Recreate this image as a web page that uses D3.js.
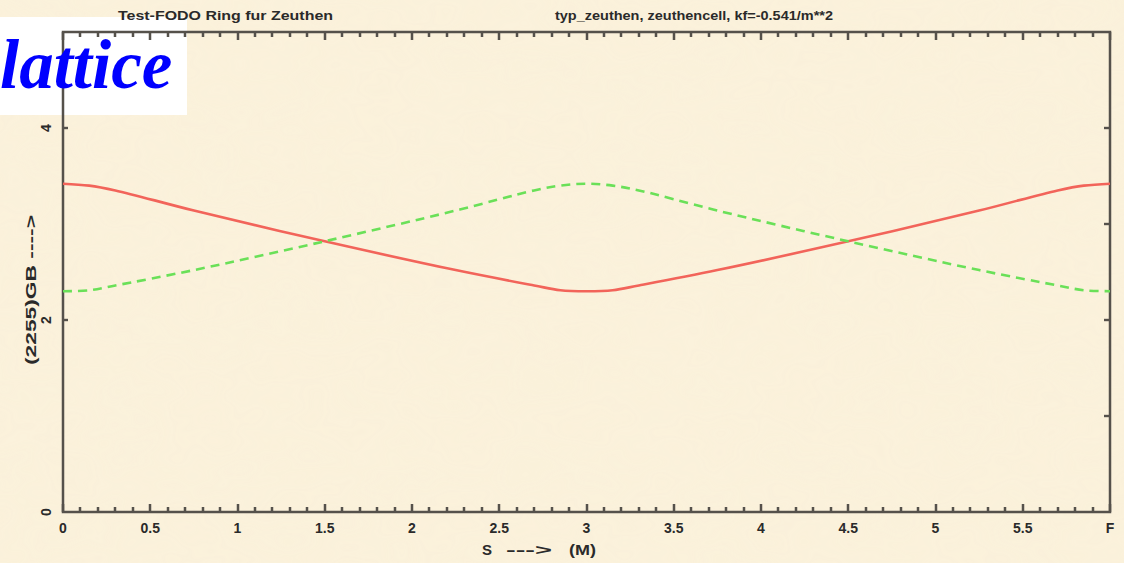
<!DOCTYPE html>
<html>
<head>
<meta charset="utf-8">
<script src="https://cdn.jsdelivr.net/npm/d3@7"></script>
<style>
  html, body { margin: 0; padding: 0; background: #faf0da; }
  svg { display: block; }
</style>
</head>
<body>
<svg id="chart" width="1124" height="563"></svg>
<script>
// Beta functions along one FODO cell (s in metres)
const sPos   = [0, 0.15, 0.3, 0.75, 1.5, 2.25, 2.7, 2.85, 3.0, 3.15, 3.3, 3.75, 4.5, 5.25, 5.7, 5.85, 6.0];
const betaX  = [3.42, 3.40, 3.35, 3.14, 2.82, 2.52, 2.36, 2.31, 2.30, 2.31, 2.36, 2.52, 2.82, 3.14, 3.35, 3.40, 3.42];
const betaY  = [2.30, 2.31, 2.36, 2.52, 2.82, 3.14, 3.35, 3.40, 3.42, 3.40, 3.35, 3.14, 2.82, 2.52, 2.36, 2.31, 2.30];

const xMajorTicks = [0, 0.5, 1, 1.5, 2, 2.5, 3, 3.5, 4, 4.5, 5, 5.5, 6];
const xTickLabels = ["0", "0.5", "1", "1.5", "2", "2.5", "3", "3.5", "4", "4.5", "5", "5.5", "F"];
const yLabelTicks = [0, 2, 4];
const yTickLabels = ["0", "2", "4"];
const yRightTicks = [1, 2, 3, 4];

const titleLeft  = "Test-FODO Ring fur Zeuthen";
const titleRight = "typ_zeuthen, zeuthencell, kf=-0.541/m**2";
const xTitleS = "S";
const xTitleArrow = "--->";
const xUnit = "(M)";
const yTitle = "(2255)GB ---->";
const badge = "lattice";

const svg = d3.select("#chart");
const W = 1124, H = 563;
const plotL = 63, plotR = 1110, plotT = 32, plotB = 512;

const x = d3.scaleLinear().domain([0, 6]).range([plotL, plotR]);
const y = d3.scaleLinear().domain([0, 5]).range([plotB, plotT]);

// parchment background
const defs = svg.append("defs");
const f = defs.append("filter").attr("id", "paper").attr("x", 0).attr("y", 0).attr("width", "100%").attr("height", "100%");
f.append("feTurbulence").attr("type", "fractalNoise").attr("baseFrequency", "0.012 0.02").attr("numOctaves", 3).attr("seed", 7).attr("result", "n");
f.append("feColorMatrix").attr("in", "n").attr("type", "matrix")
  .attr("values", "0 0 0 0 0.93  0 0 0 0 0.89  0 0 0 0 0.70  0 0 0 0.28 0");
svg.append("rect").attr("width", W).attr("height", H).attr("fill", "#fbf1db");
svg.append("rect").attr("width", W).attr("height", H).attr("filter", "url(#paper)").attr("opacity", 0.8);

// white badge panel
svg.append("rect").attr("x", 0).attr("y", 17).attr("width", 187).attr("height", 98).attr("fill", "#ffffff");

const axisColor = "#55514b";
const textColor = "#2a2a2a";
const g = svg.append("g");

// frame
g.append("rect").attr("x", plotL).attr("y", plotT).attr("width", plotR - plotL).attr("height", plotB - plotT)
  .attr("fill", "none").attr("stroke", axisColor).attr("stroke-width", 2.5);

// tick marks: minor every 0.1 m, major every 0.5 m, on bottom and top edges
const minorTicks = d3.range(1, 60).map(i => i / 10).filter(v => Math.abs(v * 2 - Math.round(v * 2)) > 1e-6);

function hTicks(values, yEdge, len, w) {
  g.append("g").selectAll("rect").data(values).join("rect")
    .attr("x", d => Math.round(x(d)) - w / 2)
    .attr("y", len < 0 ? yEdge + len : yEdge)
    .attr("width", w).attr("height", Math.abs(len))
    .attr("fill", axisColor);
}
hTicks(xMajorTicks, plotB, -8, 2.5);
hTicks(minorTicks, plotB, -5, 2.5);
hTicks(xMajorTicks, plotT, 8, 2.5);
hTicks(minorTicks, plotT, 5, 2.5);

function vTicks(values, xEdge, len) {
  g.append("g").selectAll("rect").data(values).join("rect")
    .attr("y", d => y(d) - 1.2)
    .attr("x", len < 0 ? xEdge + len : xEdge)
    .attr("height", 2.4).attr("width", Math.abs(len))
    .attr("fill", axisColor);
}
vTicks(yLabelTicks.filter(v => v > 0), plotL, 5);
vTicks(yRightTicks, plotR, -6);

// curves
const line = d3.line().x((d, i) => x(sPos[i])).y(d => y(d)).curve(d3.curveCatmullRom.alpha(0.5));
g.append("path").datum(betaX).attr("d", line).attr("fill", "none")
  .attr("stroke", "#f2645a").attr("stroke-width", 2.6);
g.append("path").datum(betaY).attr("d", line).attr("fill", "none")
  .attr("stroke", "#6ae058").attr("stroke-width", 2.6).attr("stroke-dasharray", "9,6");

// tick labels
const labFont = "'Liberation Sans Narrow', 'Liberation Sans', Arial, sans-serif";
g.append("g").selectAll("text").data(xMajorTicks).join("text")
  .attr("x", d => x(d)).attr("y", 533)
  .attr("text-anchor", "middle").attr("font-family", labFont).attr("font-size", 14)
  .attr("font-weight", 600).attr("fill", textColor).text((d, i) => xTickLabels[i]);

g.append("g").selectAll("text").data(yLabelTicks).join("text")
  .attr("transform", d => `translate(51,${y(d)}) rotate(-90)`)
  .attr("text-anchor", "middle").attr("font-family", labFont).attr("font-size", 14)
  .attr("font-weight", 600).attr("fill", textColor).text((d, i) => yTickLabels[i]);

// axis titles
g.append("text").attr("x", 482).attr("y", 555)
  .attr("font-family", labFont).attr("font-size", 15).attr("font-weight", 600).attr("fill", textColor).text(xTitleS);
g.append("text").attr("x", 506).attr("y", 555).attr("textLength", 46).attr("lengthAdjust", "spacingAndGlyphs")
  .attr("font-family", labFont).attr("font-size", 15).attr("font-weight", 600).attr("fill", textColor).text(xTitleArrow);
g.append("text").attr("x", 569).attr("y", 555).attr("textLength", 27).attr("lengthAdjust", "spacingAndGlyphs")
  .attr("font-family", labFont).attr("font-size", 15).attr("font-weight", 600).attr("fill", textColor).text(xUnit);
g.append("text").attr("transform", "translate(36,290) rotate(-90)").attr("text-anchor", "middle")
  .attr("textLength", 150).attr("lengthAdjust", "spacingAndGlyphs")
  .attr("font-family", labFont).attr("font-size", 15).attr("font-weight", 600).attr("fill", textColor).text(yTitle);

// header titles
g.append("text").attr("x", 118).attr("y", 20).attr("textLength", 215).attr("lengthAdjust", "spacingAndGlyphs")
  .attr("font-family", labFont).attr("font-size", 13).attr("font-weight", 600).attr("fill", textColor).text(titleLeft);
g.append("text").attr("x", 555).attr("y", 20).attr("textLength", 278).attr("lengthAdjust", "spacingAndGlyphs")
  .attr("font-family", labFont).attr("font-size", 13).attr("font-weight", 600).attr("fill", textColor).text(titleRight);

// badge text
svg.append("text").attr("x", 0).attr("y", 88)
  .attr("font-family", "'Liberation Serif', 'Times New Roman', serif")
  .attr("font-style", "italic").attr("font-weight", "bold").attr("font-size", 69)
  .attr("fill", "#0000ff").text(badge);
</script>
</body>
</html>
